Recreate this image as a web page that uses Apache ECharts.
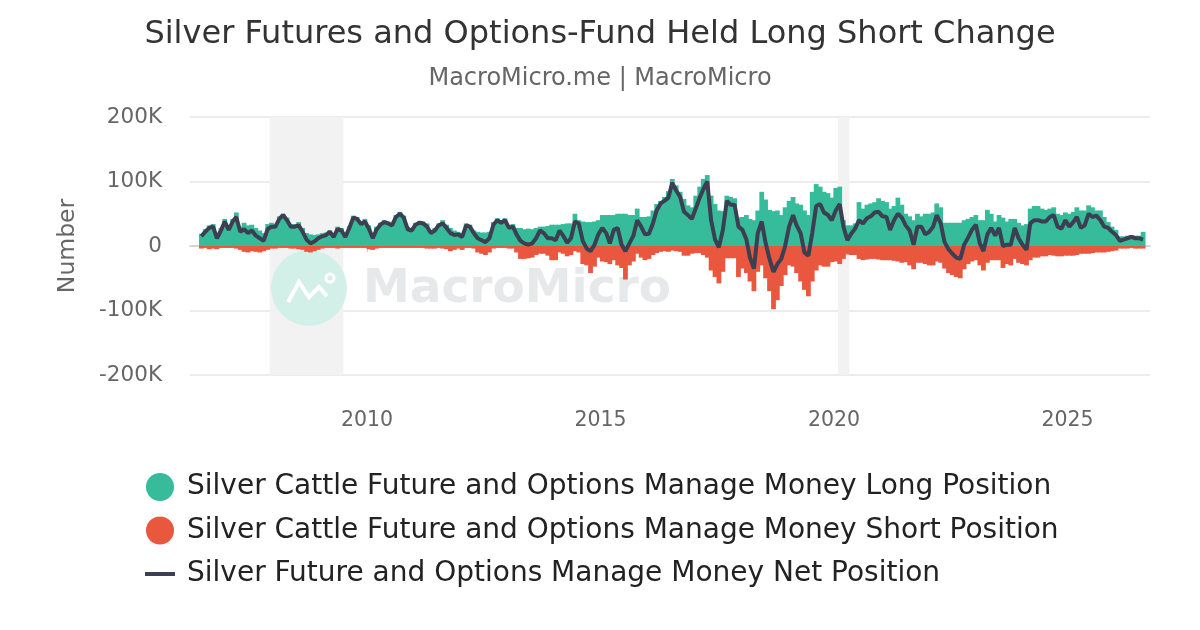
<!DOCTYPE html>
<html>
<head>
<meta charset="utf-8">
<script src="https://cdn.jsdelivr.net/npm/echarts@6/dist/echarts.min.js"></script>
<style>html,body{margin:0;padding:0;background:#fff}#c{width:1200px;height:630px}</style>
</head>
<body>
<div id="c"></div>
<script>
// Monthly values (thousand contracts), starting June 2006
const START_YEAR = 2006, START_MONTH = 6;
const longPos = [
  19, 26, 32, 34, 20, 28, 42,
  30, 42, 52, 30, 36, 32, 33, 28, 24, 20, 34, 36,
  34, 46, 50, 44, 34, 34, 37, 28, 20, 18, 17, 18,
  20, 21, 24, 18, 30, 28, 18, 31, 47, 45, 38, 42,
  32, 20, 30, 36, 40, 38, 35, 48, 53, 47, 30, 28,
  36, 39, 38, 35, 25, 28, 35, 40, 33, 28, 24, 22,
  20, 35, 33, 24, 22, 21, 21, 22, 37, 43, 39, 43,
  32, 34, 28, 28, 26, 27, 26, 28, 30, 30, 31, 33,
  33, 33, 34, 35, 35, 50, 40, 38, 37, 37, 38, 40,
  48, 48, 48, 48, 50, 50, 50, 48, 48, 58, 45, 45,
  46, 55, 65, 70, 76, 85, 104, 94, 84, 73, 63, 60,
  78, 92, 104, 110, 78, 65, 55, 54, 78, 76, 74, 44,
  45, 48, 42, 40, 55, 84, 72, 56, 54, 55, 48, 60,
  70, 76, 66, 64, 55, 48, 84, 96, 92, 84, 82, 75,
  90, 92, 40, 32, 32, 35, 68, 58, 64, 66, 68, 74,
  70, 68, 58, 62, 75, 64, 50, 46, 40, 50, 46, 50,
  50, 52, 66, 60, 36, 36, 36, 36, 36, 40, 42, 45,
  48, 40, 40, 56, 50, 38, 48, 44, 38, 42, 42, 36,
  32, 34, 58, 62, 62, 58, 56, 58, 60, 50, 48, 52,
  50, 53, 60, 55, 55, 63, 60, 55, 55, 45, 37, 30,
  25, 15, 15, 16, 17, 16, 16, 22
];
const shortPos = [
  -4, -3, -5, -4, -5, -3, -3,
  -3, -3, -4, -6, -9, -10, -8, -9, -10, -8, -6, -4,
  -4, -3, -3, -3, -4, -4, -5, -6, -9, -10, -8, -6,
  -4, -3, -3, -3, -4, -3, -3, -3, -3, -3, -3, -3,
  -5, -6, -4, -3, -3, -3, -3, -3, -3, -3, -3, -3,
  -3, -3, -3, -4, -4, -4, -3, -4, -5, -8, -6, -4,
  -6, -3, -3, -4, -10, -12, -14, -10, -4, -3, -3, -3,
  -4, -4, -10, -20, -20, -19, -18, -14, -12, -12, -15, -22,
  -22, -10, -12, -16, -14, -8, -10, -28, -30, -42, -32, -18,
  -24, -25, -28, -22, -30, -34, -52, -30, -24, -12, -18, -22,
  -20, -14, -11, -9, -8, -9, -7, -8, -9, -15, -15, -12,
  -11, -11, -14, -18, -38, -48, -58, -40, -19, -19, -19, -48,
  -35, -42, -55, -70, -40, -30, -50, -70, -98, -84, -62, -45,
  -30, -32, -42, -55, -68, -78, -55, -38, -30, -32, -32, -25,
  -24, -28, -20, -13, -14, -14, -20, -22, -21, -20, -20, -21,
  -22, -22, -22, -23, -24, -26, -25, -30, -36, -26, -26, -28,
  -30, -30, -24, -26, -35, -42, -45, -48, -50, -36, -28, -24,
  -22, -30, -38, -26, -22, -22, -22, -34, -28, -30, -20, -26,
  -28, -30, -22, -18, -18, -16, -16, -14, -15, -16, -16, -15,
  -15, -15, -14, -12, -12, -12, -11, -10, -10, -10, -9, -8,
  -7, -4, -4, -4, -3, -4, -4, -4
];
const netPos = [
  15, 22, 28, 30, 12, 24, 38,
  25, 38, 45, 22, 26, 20, 24, 16, 12, 8, 26, 30,
  30, 42, 48, 40, 30, 30, 32, 22, 10, 4, 7, 12,
  15, 17, 22, 14, 26, 24, 14, 28, 44, 42, 34, 38,
  27, 12, 25, 33, 37, 35, 32, 45, 50, 44, 26, 24,
  33, 36, 35, 30, 20, 24, 32, 35, 28, 20, 17, 18,
  14, 32, 30, 20, 12, 9, 6, 12, 33, 40, 36, 40,
  28, 30, 18, 8, 4, 2, 4, 12, 24, 20, 12, 12,
  9, 24, 16, 5, 12, 38, 35, 8, -4, -8, 2, 18,
  28, 20, 4, 25, 28, 2, -8, 4, 16, 40, 30, 18,
  19, 35, 55, 66, 70, 75, 98, 86, 76, 53, 48, 42,
  58, 75, 88, 100, 40, 10, -2, 25, 70, 64, 64, 30,
  25, 10, -18, -35, 20, 38, 5, -20, -40, -28, -20, 0,
  30, 48, 32, 20, -10, -15, 20, 62, 65, 52, 48, 40,
  55, 65, 30, 9, 19, 27, 40, 35, 43, 46, 52, 53,
  46, 45, 25, 40, 50, 44, 32, 24, 2, 30, 30, 18,
  22, 30, 48, 35, 6, -5, -12, -18, -20, 2, 13, 25,
  33, 4, -8, 18, 28, 16, 28, 0, 2, 2, 28, 12,
  2, -6, 35, 40, 40, 38, 38, 45, 48, 30, 27, 40,
  30, 37, 45, 28, 32, 50, 45, 47, 40, 30, 28, 22,
  17, 8, 10, 12, 14, 12, 12, 10
];
const yearTicks = ['2010-01-01', '2015-01-01', '2020-01-01', '2025-01-01'];
const recessions = [['2007-12-01', '2009-06-30'], ['2020-02-01', '2020-04-30']];
const NAMES = [
  'Silver Cattle Future and Options Manage Money Long Position',
  'Silver Cattle Future and Options Manage Money Short Position',
  'Silver Future and Options Manage Money Net Position'
];

const ts = s => Date.parse(s + 'T00:00:00Z');
const dates = [];
for (let i = 0; i < longPos.length; i++) {
  const m0 = START_MONTH - 1 + i;
  const y = START_YEAR + Math.floor(m0 / 12);
  const m = (m0 % 12) + 1;
  dates.push(ts(y + '-' + String(m).padStart(2, '0') + '-15'));
}
const pair = arr => arr.map((v, i) => [dates[i], v * 1000]);
const tickTs = yearTicks.map(ts);

const FONT = 'DejaVu Sans';
const chart = echarts.init(document.getElementById('c'));
chart.setOption({
  animation: false,
  backgroundColor: '#fff',
  textStyle: { fontFamily: FONT },
  title: {
    text: 'Silver Futures and Options-Fund Held Long Short Change',
    subtext: 'MacroMicro.me | MacroMicro',
    left: 'center', top: 14, itemGap: 16,
    textStyle: { fontFamily: FONT, fontSize: 32, fontWeight: 'normal', color: '#333' },
    subtextStyle: { fontFamily: FONT, fontSize: 24, color: '#666' }
  },
  legend: {
    orient: 'vertical', left: 140, top: 468,
    itemWidth: 30, itemHeight: 28, itemGap: 15.5,
    textStyle: { fontFamily: FONT, fontSize: 28, color: '#222', padding: [0, 0, 0, 7] },
    data: [
      { name: NAMES[0], icon: 'circle' },
      { name: NAMES[1], icon: 'circle' },
      { name: NAMES[2], icon: 'path://M0,0H30V4H0Z' }
    ]
  },
  grid: { left: 190, right: 50, top: 117, bottom: 255 },
  xAxis: {
    type: 'value',
    min: ts('2006-03-18'), max: ts('2026-10-08'),
    axisLine: { lineStyle: { color: '#ccc', width: 1.5 } },
    axisTick: { show: true, length: 6, lineStyle: { color: '#ccc' }, customValues: tickTs },
    axisLabel: {
      customValues: tickTs, fontSize: 20.5, color: '#666', margin: 35, fontFamily: FONT,
      formatter: v => String(new Date(v).getUTCFullYear())
    },
    splitLine: { show: false }
  },
  yAxis: {
    type: 'value', min: -200000, max: 200000, interval: 100000,
    name: 'Number', nameLocation: 'middle', nameGap: 110,
    nameTextStyle: { fontSize: 23.5, color: '#666', fontFamily: FONT },
    axisLine: { show: false }, axisTick: { show: false },
    axisLabel: {
      fontSize: 21.5, color: '#666', margin: 28, fontFamily: FONT,
      formatter: v => v === 0 ? '0' : (v / 1000) + 'K'
    },
    splitLine: { lineStyle: { color: '#e6e6e6', width: 1.5 } }
  },
  graphic: [
    { type: 'circle', z: 1, silent: true, shape: { cx: 309, cy: 288, r: 38 }, style: { fill: '#d3f0e8' } },
    { type: 'polyline', z: 1, silent: true,
      shape: { points: [[288, 302], [299, 282], [309, 297], [319, 287], [327, 296]] },
      style: { stroke: '#ffffff', lineWidth: 4, fill: null } },
    { type: 'circle', z: 1, silent: true, shape: { cx: 330, cy: 278, r: 4 }, style: { fill: null, stroke: '#fff', lineWidth: 3 } },
    { type: 'text', z: 1, silent: true, x: 363, y: 290,
      style: { text: 'MacroMicro', font: 'bold 47px "DejaVu Sans"', fill: '#e7e8ea', textVerticalAlign: 'middle' } }
  ],
  series: [
    {
      name: NAMES[0], type: 'bar', data: pair(longPos), barWidth: 4.8, barGap: '-100%',
      itemStyle: { color: '#37bc9b' }, z: 2,
      markArea: {
        silent: true, z: 0,
        itemStyle: { color: '#f2f2f2' },
        data: recessions.map(r => [{ xAxis: ts(r[0]) }, { xAxis: ts(r[1]) }])
      }
    },
    {
      name: NAMES[1], type: 'bar', data: pair(shortPos), barWidth: 4.8, barGap: '-100%',
      itemStyle: { color: '#e9573f' }, z: 2
    },
    {
      name: NAMES[2], type: 'line', data: pair(netPos), showSymbol: false, symbol: 'none',
      lineStyle: { color: '#3b3f51', width: 4 }, itemStyle: { color: '#3b3f51' }, z: 3
    }
  ]
});
</script>
</body>
</html>
